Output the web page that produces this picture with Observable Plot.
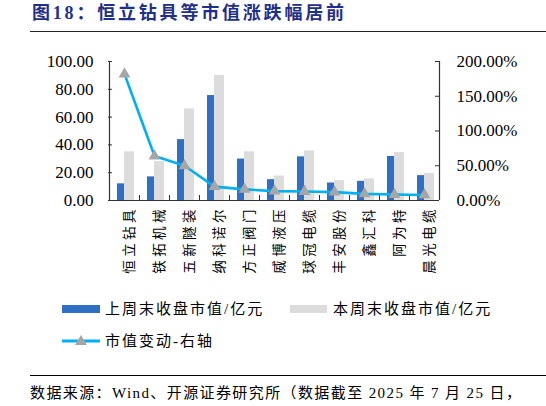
<!DOCTYPE html>
<html>
<head>
<meta charset="utf-8">
<script src="https://cdn.jsdelivr.net/npm/d3@7"></script>
<script src="https://cdn.jsdelivr.net/npm/@observablehq/plot@0.6"></script>
<style>
  body { margin: 0; background: #fff; }
  #wrap { position: relative; width: 546px; height: 406px; overflow: hidden; }
  .abs { position: absolute; white-space: nowrap; }
  .title { left: 32px; top: 1px; font: bold 18px "Liberation Serif", "Noto Sans CJK SC"; letter-spacing: 2.8px; color: #1f2f8c; line-height: 24px; }
  .rule { left: 30px; width: 516px; height: 0; }
  .lg { font: 15px "Liberation Serif", "Noto Sans CJK SC"; letter-spacing: 2px; line-height: 20px; color: #000; }
  .src { left: 30px; top: 383px; font: 15px "Liberation Serif", "Noto Sans CJK SC"; letter-spacing: 1.4px; line-height: 20px; }
  #chart { left: 0; top: 40px; }
</style>
</head>
<body>
<div id="wrap">
  <div class="abs title">图18：恒立钻具等市值涨跌幅居前</div>
  <div class="abs rule" style="top:31px;border-top:1.5px solid #222"></div>
  <div class="abs" id="chart"></div>
  <div class="abs" style="left:62px;top:305px;width:38px;height:8px;background:#3070c4"></div>
  <div class="abs lg" style="left:105px;top:299px">上周末收盘市值/亿元</div>
  <div class="abs" style="left:290px;top:305px;width:37px;height:8px;background:#dcdcdc"></div>
  <div class="abs lg" style="left:333px;top:299px">本周末收盘市值/亿元</div>
  <svg class="abs" style="left:62px;top:334px" width="40" height="14">
    <line x1="0" x2="38" y1="7" y2="7" stroke="#00b0f0" stroke-width="3"/>
    <polygon points="19,1 25,11 13,11" fill="#a6a6a6"/>
  </svg>
  <div class="abs lg" style="left:105px;top:331px">市值变动-右轴</div>
  <div class="abs rule" style="top:375px;border-top:1px solid #000"></div>
  <div class="abs src">数据来源：Wind、开源证券研究所（数据截至 2025 年 7 月 25 日，</div>
</div>
<script>
// companies, left to right
var names = ["恒立钻具", "铁拓机械", "五新隧装", "纳科诺尔", "方正阀门", "威博液压", "球冠电缆", "丰安股份", "鑫汇科", "阿为特", "晨光电缆"];
// 上周末收盘市值 (亿元)
var lastWeek = [12, 17, 43.8, 75.5, 29.8, 15, 31.4, 12.6, 13.8, 31.7, 17.9];
// 本周末收盘市值 (亿元)
var thisWeek = [35, 28, 66, 90, 35, 17.6, 35.7, 14.3, 15.5, 34.5, 19.5];
// 市值变动 (%), right axis
var change = [182, 64, 50, 20, 16, 13.5, 13, 12, 9.5, 8.6, 8];

var leftTicks = [0, 20, 40, 60, 80, 100];
var rightTicks = [0, 50, 100, 150, 200];

var rows = names.map(function (n, i) {
  return { name: n, last: lastWeek[i], cur: thisWeek[i], chg: change[i] };
});

// right axis 0-200% shares the left 0-100 scale
var r2l = function (p) { return p / 2; };
var serif = "Liberation Serif, Times New Roman, serif";
// spread the vertical labels out a bit, like the original
var spaced = function (s) { return s.split("").join("\u2005"); };

var chart = Plot.plot({
  width: 546,
  height: 250,
  marginTop: 21,
  marginBottom: 90,
  marginLeft: 108,
  marginRight: 107,
  style: { fontFamily: serif, fontSize: "17px", color: "#000", background: "transparent", overflow: "visible" },
  x: { domain: names, padding: 0, label: null },
  y: { domain: [0, 100], label: null },
  marks: [
    Plot.barY(rows, { x: "name", y: "last", fill: "#3070c4", insetLeft: 8, insetRight: 15 }),
    Plot.barY(rows, { x: "name", y: "cur", fill: "#dcdcdc", insetLeft: 15, insetRight: 5 }),
    Plot.ruleY([0], { stroke: "#333", strokeWidth: 1.2 }),
    Plot.ruleX([names[0]], { dx: -15, y1: 0, y2: 100, stroke: "#333", strokeWidth: 1.2 }),
    Plot.ruleX([names[names.length - 1]], { dx: 15, y1: 0, y2: 100, stroke: "#333", strokeWidth: 1.2 }),
    Plot.ruleX(names.slice(1), { x: function (d) { return d; }, dx: -15, y1: 0, y2: 3.6, stroke: "#333" }),
    Plot.ruleY(leftTicks, { y: function (d) { return d; }, insetRight: 327, stroke: "#333" }),
    Plot.ruleY(rightTicks, { y: r2l, insetLeft: 327, stroke: "#333" }),
    Plot.axisY({ ticks: leftTicks, tickFormat: function (d) { return d.toFixed(2); }, tickSize: 0, tickPadding: 15, fontFamily: serif, fontSize: 17, fontVariant: "normal", label: null }),
    Plot.axisY({ anchor: "right", ticks: rightTicks.map(r2l), tickFormat: function (d) { return (d * 2).toFixed(2) + "%"; }, tickSize: 0, tickPadding: 17, fontFamily: serif, fontSize: 17, fontVariant: "normal", label: null }),
    Plot.axisX({ tickSize: 0, tickPadding: 9, rotate: -90, textAnchor: "end", tickFormat: spaced, fontFamily: "Noto Sans CJK SC", fontSize: 13.5, label: null }),
    Plot.line(rows, { x: "name", y: function (d) { return r2l(d.chg); }, stroke: "#00b0f0", strokeWidth: 2.6 }),
    Plot.dot(rows, { x: "name", y: function (d) { return r2l(d.chg); }, symbol: "triangle", r: 4.4, fill: "#a6a6a6", stroke: null })
  ]
});

d3.select("#chart").append(function () { return chart; });
</script>
</body>
</html>
